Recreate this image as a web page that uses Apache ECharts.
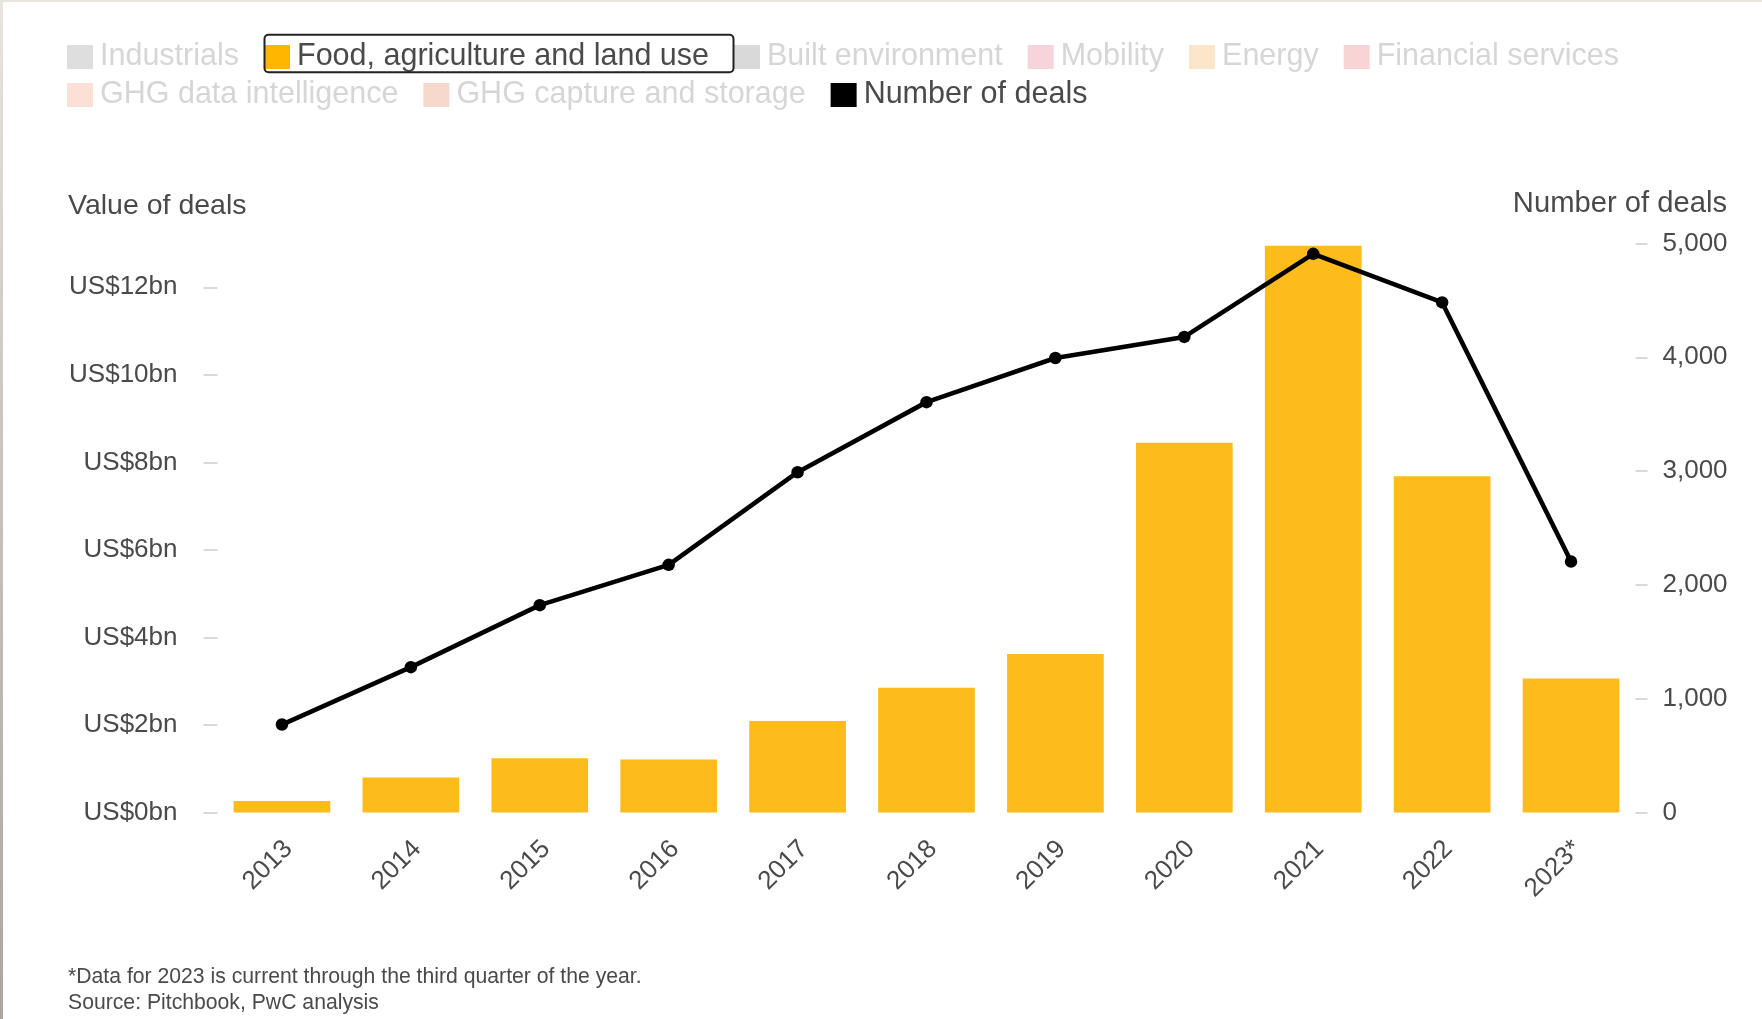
<!DOCTYPE html>
<html><head><meta charset="utf-8">
<script src="https://cdn.jsdelivr.net/npm/echarts@6/dist/echarts.min.js"></script>
<style>
html,body{margin:0;padding:0;background:#fff;}
#chart{position:absolute;left:0;top:0;width:1762px;height:1019px;}
#bt{position:absolute;left:0;top:0;width:1762px;height:2px;background:#e9e5de;}
#bl{position:absolute;left:0;top:0;width:3px;height:1019px;background:linear-gradient(#e9e5de,#cbc7c0 40%,#aaa69f);}
</style></head><body>
<div id="chart"></div><div id="bt"></div><div id="bl"></div>
<script>
// ---- data ----
const years = ['2013','2014','2015','2016','2017','2018','2019','2020','2021','2022','2023*'];
const foodAgValues = [0.26, 0.80, 1.24, 1.21, 2.09, 2.85, 3.62, 8.45, 12.95, 7.68, 3.06]; // US$bn
const numberOfDeals = [773, 1277, 1822, 2176, 2990, 3606, 3994, 4179, 4909, 4482, 2205];
const valueTicks = [0, 2, 4, 6, 8, 10, 12];
const dealTicks = [0, 1000, 2000, 3000, 4000, 5000];
const legendRow1 = ['Industrials', 'Food, agriculture and land use', 'Built environment', 'Mobility', 'Energy', 'Financial services'];
const legendRow2 = ['GHG data intelligence', 'GHG capture and storage', 'Number of deals'];
const footnote = ['*Data for 2023 is current through the third quarter of the year.', 'Source: Pitchbook, PwC analysis'];

// ---- styles ----
const FONT = "'Liberation Sans', Arial, Helvetica, sans-serif";
const TEXT = '#4a4a4a';
const FADED_TEXT = '#d6d6d6';
const fadedColors = {
  'Industrials': '#dedede',
  'Built environment': '#d9d9d9',
  'Mobility': '#f7d3dc',
  'Energy': '#fbe6c9',
  'Financial services': '#f8d4d4',
  'GHG data intelligence': '#fde0d5',
  'GHG capture and storage': '#f6d8cc'
};
const FOOD = 'Food, agriculture and land use';
const DEALS = 'Number of deals';

const chart = echarts.init(document.getElementById('chart'), null, {renderer: 'canvas'});

function legendItem(name) {
  if (name === FOOD) return {name, itemStyle: {color: '#FFB600'}, textStyle: {color: TEXT}};
  if (name === DEALS) return {name, itemStyle: {color: '#000'}, textStyle: {color: TEXT}};
  return {name, textStyle: {color: FADED_TEXT}};
}
const legendBase = {
  orient: 'horizontal', icon: 'rect', itemWidth: 26, itemHeight: 24, itemGap: 25,
  padding: 0, selectedMode: false,
  textStyle: {fontSize: 30.5, fontFamily: FONT, color: FADED_TEXT, padding: [0, 0, 0, 2]}
};

const emptySeries = Object.keys(fadedColors).map(n => ({
  name: n, type: 'line', data: [], color: fadedColors[n], showSymbol: false
}));

chart.setOption({
  animation: false,
  backgroundColor: '#fff',
  textStyle: {fontFamily: FONT},
  title: [
    {text: 'Value of deals', left: 68, top: 192, padding: 0,
     textStyle: {fontSize: 28.5, fontWeight: 'normal', color: TEXT, fontFamily: FONT}},
    {text: 'Number of deals', right: 35, top: 189.5, padding: 0,
     textStyle: {fontSize: 29.2, fontWeight: 'normal', color: TEXT, fontFamily: FONT}},
    {text: footnote.join('\n'), left: 68, top: 964, padding: 0,
     textStyle: {fontSize: 21.2, lineHeight: 26, fontWeight: 'normal', color: TEXT, fontFamily: FONT}}
  ],
  legend: [
    Object.assign({}, legendBase, {left: 67, top: 41.5, data: legendRow1.map(legendItem)}),
    Object.assign({}, legendBase, {left: 67, top: 79.5, data: legendRow2.map(legendItem)})
  ],
  grid: {left: 217.5, right: 126.5, top: 243.5, bottom: 206.5, containLabel: false},
  xAxis: {
    type: 'category', data: years,
    axisLine: {show: false}, axisTick: {show: false},
    axisLabel: {rotate: 45, fontSize: 26, color: TEXT, margin: 26, verticalAlign: 'top',
                lineHeight: 18, fontFamily: FONT}
  },
  yAxis: [
    {
      type: 'value', min: 0, max: 13, interval: 2, position: 'left',
      splitLine: {show: false}, axisLine: {show: false},
      axisTick: {show: true, length: 14, lineStyle: {color: '#d9d9d9', width: 2}, customValues: valueTicks},
      axisLabel: {margin: 40, fontSize: 26, color: TEXT, fontFamily: FONT, customValues: valueTicks,
                  formatter: v => 'US$' + v + 'bn'}
    },
    {
      type: 'value', min: 0, max: 5000, interval: 1000, position: 'right',
      splitLine: {show: false}, axisLine: {show: false},
      axisTick: {show: true, length: 12, lineStyle: {color: '#d9d9d9', width: 2}},
      axisLabel: {margin: 27, fontSize: 26, color: TEXT, fontFamily: FONT,
                  formatter: v => v.toLocaleString('en-US')}
    }
  ],
  series: [
    {name: FOOD, type: 'bar', data: foodAgValues, yAxisIndex: 0, barCategoryGap: '25%',
     itemStyle: {color: '#FDBB1C'}, z: 2},
    {name: DEALS, type: 'line', data: numberOfDeals, yAxisIndex: 1, color: '#000',
     lineStyle: {width: 4.6, color: '#000'}, symbol: 'circle', symbolSize: 12.5,
     itemStyle: {color: '#000'}, z: 5}
  ].concat(emptySeries),
  graphic: [
    {type: 'rect', z: 100, shape: {x: 264.5, y: 34.8, width: 469, height: 37.5, r: 4},
     style: {fill: 'none', stroke: '#222', lineWidth: 2}}
  ]
});
</script>
</body></html>
